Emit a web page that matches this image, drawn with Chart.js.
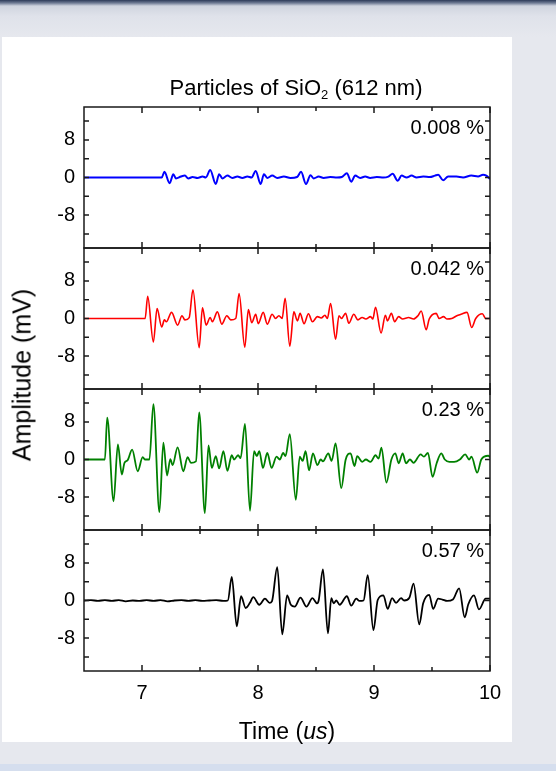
<!DOCTYPE html>
<html>
<head>
<meta charset="utf-8">
<script src="https://cdn.jsdelivr.net/npm/chart.js@4.4.1/dist/chart.umd.min.js"></script>
<style>
  html, body { margin: 0; padding: 0; }
  body { width: 556px; height: 771px; position: relative; overflow: hidden;
         background: #e6e8ee; font-family: "Liberation Sans", Arial, sans-serif; }
  #topband { position: absolute; left: 0; top: 0; width: 556px; height: 37px;
             background: linear-gradient(to bottom, #2c3a58 0px, #6f7b95 3px, #cfd4df 6px, #dfe2ea 16px, #e6e8ee 37px); }
  #botband { position: absolute; left: 0; top: 764px; width: 556px; height: 7px; background: #d5deee; }
  #card { position: absolute; left: 2px; top: 37px; width: 510px; height: 705px; background: #ffffff; }
  #cv { position: absolute; left: 0; top: 0; }
  .txt { position: absolute; color: #000; white-space: nowrap; }
  #title { left: 296px; top: 88px; transform: translate(-50%, -50%); font-size: 22px; }
  #title sub { font-size: 13px; vertical-align: -4px; line-height: 0; }
  #ytitle { left: 22px; top: 375px; transform: translate(-50%, -50%) rotate(-90deg); font-size: 25px; }
  #xtitle { left: 287px; top: 731px; transform: translate(-50%, -50%); font-size: 23px; }
</style>
</head>
<body>
<div id="topband"></div>
<div id="botband"></div>
<div id="card"></div>
<canvas id="cv" width="556" height="771"></canvas>
<div class="txt" id="title">Particles of SiO<sub>2</sub> (612 nm)</div>
<div class="txt" id="ytitle">Amplitude (mV)</div>
<div class="txt" id="xtitle">Time (<i>us</i>)</div>
<script>
// ---- data ----
const panelLabels = ['0.008 %', '0.042 %', '0.23 %', '0.57 %'];
const seriesColors = ['#0000ff', '#ff0000', '#008000', '#000000'];

const xTickValues = [7, 7.5, 8, 8.5, 9, 9.5, 10];
const xTickLabeled = [7, 8, 9, 10];
const yTickValues = [-12, -8, -4, 0, 4, 8, 12];
const yTickLabeled = [-8, 0, 8];

const blueT = [6.5,7.17,7.193,7.238,7.27,7.293,7.336,7.37,7.399,7.436,7.479,7.522,7.55,7.588,7.636,7.665,7.693,7.736,7.779,7.822,7.865,7.908,7.945,7.98,8.023,8.051,8.08,8.123,8.166,8.223,8.28,8.337,8.371,8.414,8.452,8.48,8.523,8.566,8.623,8.681,8.723,8.766,8.804,8.838,8.881,8.924,8.967,9.024,9.081,9.124,9.161,9.204,9.238,9.281,9.324,9.367,9.425,9.482,9.525,9.553,9.596,9.639,9.711,9.768,9.839,9.897,9.94,9.968,10.0];
const blueV = [0,0,1.2,-1.2,0.7,-0.2,0.2,0.4,-0.2,0.1,-0.1,0.2,0,1.6,-1.4,0.7,-0.2,0.4,-0.1,0.2,-0.1,0.2,0,1.4,-1.4,0.7,-0.1,0.4,-0.1,0.2,-0.1,0.1,1.2,-1.4,0.5,-0.2,0.2,-0.1,0.1,0,0.1,0.9,-0.9,0.4,-0.1,0.2,-0.1,0.1,0,0.2,0.8,-0.7,0.4,0,0.4,0,0.2,0.1,0.4,0.6,-0.6,0.2,0.2,0,0.4,0.2,0.6,0.4,-0.3];

const redT = [6.5,7.027,7.049,7.098,7.13,7.17,7.193,7.21,7.255,7.307,7.345,7.37,7.407,7.439,7.493,7.521,7.553,7.588,7.607,7.65,7.688,7.731,7.765,7.808,7.837,7.886,7.917,7.946,7.98,8.002,8.045,8.08,8.122,8.152,8.18,8.208,8.234,8.274,8.309,8.34,8.363,8.397,8.435,8.469,8.512,8.545,8.577,8.598,8.626,8.669,8.698,8.72,8.755,8.783,8.826,8.861,8.898,8.93,8.97,8.99,9.013,9.061,9.098,9.116,9.15,9.178,9.212,9.247,9.298,9.341,9.379,9.407,9.45,9.476,9.536,9.562,9.599,9.628,9.67,9.714,9.75,9.802,9.842,9.877,9.934,9.963,10.0];
const redV = [0,0,4.7,-5.0,2.1,-1.8,-0.3,-0.7,1.3,-1.4,0.6,-0.3,0.2,6.1,-6.2,2.3,-1.4,0.2,-0.7,1.4,-1.2,0.6,-0.3,0,5.3,-6.1,1.9,-0.9,0.9,-1.1,1.3,-1.2,0.9,0,0.6,0,4.3,-5.9,1.4,-0.5,1.1,-1.1,1.0,-0.7,0.4,0.1,0.7,0,3.2,-4.4,0.6,0,1.1,-1.0,0.9,-0.3,0.2,-0.1,0.4,-0.1,2.4,-3.1,0.7,-0.5,1.1,-0.7,0.4,-0.1,0.2,-0.1,0.6,1.6,-2.4,-0.1,1.1,0,0.4,-0.1,0,0.6,0.9,1.3,-1.9,0,1.0,0,0];

const greenT = [6.5,6.68,6.7,6.755,6.792,6.826,6.849,6.875,6.915,6.963,7.006,7.025,7.064,7.098,7.15,7.184,7.216,7.244,7.264,7.307,7.356,7.393,7.422,7.465,7.493,7.542,7.573,7.602,7.636,7.665,7.702,7.736,7.774,7.794,7.828,7.85,7.888,7.931,7.966,7.99,8.011,8.043,8.08,8.117,8.16,8.188,8.217,8.237,8.274,8.326,8.36,8.385,8.41,8.44,8.474,8.512,8.54,8.56,8.606,8.635,8.669,8.718,8.755,8.798,8.832,8.855,8.898,8.93,8.97,9.013,9.04,9.064,9.107,9.15,9.184,9.213,9.247,9.276,9.31,9.341,9.402,9.43,9.465,9.505,9.54,9.58,9.61,9.65,9.69,9.74,9.786,9.82,9.84,9.89,9.925,9.985,10.0];
const greenV = [0,0,8.9,-8.9,3.2,-3.2,-0.7,-0.2,2.1,-2.5,0.5,0,0,11.8,-11.2,3.6,-3.4,0.1,-1.2,2.6,-2.5,0.5,-0.7,-0.4,10.0,-11.4,3.0,-1.8,0.7,-1.9,1.8,-2.4,0.9,0,0.9,0.3,7.6,-10.9,1.8,0.7,1.8,-1.8,1.4,-1.8,0.6,0,1.4,0.7,5.4,-8.6,0.6,-0.3,1.8,-2.3,1.3,-1.2,0,-0.4,1.3,-0.3,3.4,-6.1,-0.1,1.3,-1.4,0.7,-0.5,0,-0.5,0.9,0.2,2.5,-4.9,0,1.3,-0.8,1.3,-0.8,0,-0.7,1.1,0.6,1.4,-3.7,-0.8,1.3,0,-0.5,-0.5,0,1.1,0,0.6,-2.8,0,0.8,0.5];

const blackT = [6.5,6.56,6.62,6.68,6.74,6.8,6.86,6.92,6.98,7.04,7.1,7.16,7.22,7.28,7.34,7.4,7.46,7.52,7.58,7.64,7.7,7.74,7.774,7.817,7.854,7.894,7.93,7.959,8.011,8.06,8.1,8.12,8.166,8.209,8.251,8.283,8.317,8.366,8.418,8.469,8.509,8.523,8.56,8.603,8.632,8.652,8.675,8.704,8.766,8.804,8.847,8.875,8.91,8.946,8.995,9.032,9.081,9.118,9.156,9.19,9.233,9.26,9.305,9.341,9.39,9.424,9.476,9.51,9.553,9.59,9.63,9.68,9.734,9.782,9.813,9.862,9.905,9.963,10.0];
const blackV = [0,0.1,-0.1,0.1,-0.1,0.1,-0.2,0,-0.1,0.1,-0.1,0.1,-0.2,0,0.1,-0.1,0.1,-0.1,0,0.1,-0.1,0,5.0,-5.5,0.9,-1.6,-0.5,0.7,-0.9,0.4,-0.5,-0.2,7.1,-7.2,1.1,-0.9,-1.3,0.6,-1.3,0.5,-0.6,0,6.6,-7.0,0.5,-0.6,0,-0.9,0.9,-1.1,0.4,-0.1,0,5.4,-6.3,0.1,1.1,-1.8,0.5,-0.5,0.5,0,0.6,3.6,-5.1,-0.6,1.2,-1.8,0.4,0.2,-0.1,0.2,2.6,-3.6,-0.8,1.1,-1.9,0.4,0.4];

const seriesT = [blueT, redT, greenT, blackT];
const seriesV = [blueV, redV, greenV, blackV];
const seriesWidths = [2, 1.6, 1.8, 1.8];
const panelIds = ['y1', 'y2', 'y3', 'y4'];

// ---- chart ----
const FONT = '"Liberation Sans", Arial, sans-serif';
const datasets = seriesT.map((ts, i) => ({
  data: ts.map((t, k) => ({ x: t, y: seriesV[i][k] })),
  yAxisID: panelIds[i],
  borderColor: seriesColors[i],
  borderWidth: seriesWidths[i],
  pointRadius: 0,
  cubicInterpolationMode: 'monotone',
  fill: false
}));

const scales = {
  x: {
    type: 'linear', position: 'bottom', min: 6.5, max: 10,
    afterBuildTicks: s => { s.ticks = xTickValues.map(v => ({ value: v })); },
    afterFit: s => { s.height = 40; },
    grid: { display: false, drawTicks: false },
    border: { display: false },
    ticks: {
      padding: 10, color: '#000', font: { family: FONT, size: 20 }, maxRotation: 0, autoSkip: false,
      callback: v => xTickLabeled.includes(v) ? String(v) : ''
    }
  }
};
panelIds.forEach((id, i) => {
  scales[id] = {
    type: 'linear', position: 'left', stack: 'panels', stackWeight: 1,
    weight: 4 - i,
    min: -15, max: 15,
    afterBuildTicks: s => { s.ticks = yTickValues.map(v => ({ value: v })); },
    afterFit: s => { s.width = 45; },
    grid: { display: false, drawTicks: false },
    border: { display: false },
    ticks: {
      padding: 9, color: '#000', font: { family: FONT, size: 20 }, autoSkip: false,
      callback: v => yTickLabeled.includes(v) ? String(v) : ''
    }
  };
});

const framePlugin = {
  id: 'frames',
  afterDatasetsDraw(chart) {
    const ctx = chart.ctx;
    const xs = chart.scales.x;
    const L = chart.chartArea.left, R = chart.chartArea.right;
    ctx.save();
    ctx.strokeStyle = '#1a1a1a';
    ctx.lineWidth = 1.5;
    panelIds.forEach((id, i) => {
      const ys = chart.scales[id];
      const T = ys.top, B = ys.bottom;
      ctx.strokeRect(L, T, R - L, B - T);
      ctx.beginPath();
      ys.ticks.forEach(t => {
        const py = ys.getPixelForValue(t.value);
        ctx.moveTo(L, py); ctx.lineTo(L + 5, py);
        ctx.moveTo(R, py); ctx.lineTo(R - 5, py);
      });
      xs.ticks.forEach(t => {
        const px = xs.getPixelForValue(t.value);
        const len = xTickLabeled.includes(t.value) ? 6 : 4;
        ctx.moveTo(px, T); ctx.lineTo(px, T + len);
        ctx.moveTo(px, B); ctx.lineTo(px, B - len);
      });
      ctx.stroke();
      ctx.fillStyle = '#000';
      ctx.font = '20px ' + FONT;
      ctx.textAlign = 'right';
      ctx.textBaseline = 'middle';
      ctx.fillText(panelLabels[i], R - 6, T + 21);
    });
    ctx.restore();
  }
};

new Chart(document.getElementById('cv'), {
  type: 'line',
  data: { datasets },
  options: {
    responsive: false,
    animation: false,
    layout: { padding: { left: 39, right: 66, top: 107, bottom: 60 } },
    plugins: { legend: { display: false }, tooltip: { enabled: false }, title: { display: false } },
    scales
  },
  plugins: [framePlugin]
});
</script>
</body>
</html>
